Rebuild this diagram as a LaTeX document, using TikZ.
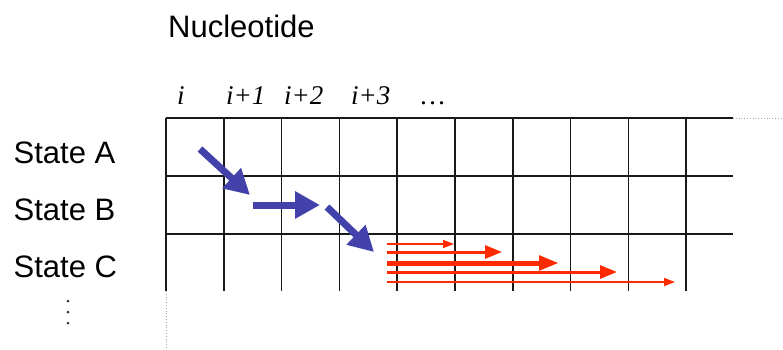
\documentclass[tikz,border=0pt]{standalone}
\usepackage{fontspec}
\setmainfont{Liberation Sans}
\newfontfamily\serifit{Liberation Serif}
\usetikzlibrary{arrows.meta}
\definecolor{bluearr}{RGB}{66,66,170}
\definecolor{redarr}{RGB}{255,42,0}
\tikzset{
  gridline/.style={line width=1.5pt, black!90},
  dotline/.style={line width=0.8pt, gray!70, dotted},
  lbl/.style={anchor=base west, inner sep=0pt, font=\fontsize{31}{31}\selectfont},
  collbl/.style={anchor=base west, inner sep=0pt, font=\serifit\itshape\fontsize{27}{27}\selectfont},
  bluea/.style={draw=bluearr, line width=7pt, -{Triangle[length=25pt,width=26pt]}},
  redthin/.style={draw=redarr, line width=1.5pt, -{Triangle[length=11pt,width=8pt]}},
  redmid/.style={draw=redarr, line width=3pt, -{Triangle[length=17pt,width=13pt]}},
  redthick/.style={draw=redarr, line width=5pt, -{Triangle[length=20pt,width=14pt]}},
}
\begin{document}
\begin{tikzpicture}[x=1pt,y=-1pt]
\useasboundingbox (0,0) rectangle (783,350);
% labels
\node[lbl] (nuc) at (168,38) {Nucleotide};
\node[lbl] (sa) at (13.5,163) {State A};
\node[lbl] (sb) at (13.5,220) {State B};
\node[lbl] (sc) at (13.5,277) {State C};
\node[collbl] (c1) at (177,105) {i};
\node[collbl] (c2) at (226,105) {i+1};
\node[collbl] (c3) at (284,105) {i+2};
\node[collbl] (c4) at (351,105) {i+3};
\node[collbl] (c5) at (419,105) {\normalfont\serifit …};
% vertical dots
\foreach \yy in {301,312,323} \fill[black!80] (68,\yy) circle (1.5pt);
% grid
\foreach \r in {118,176,234} \draw[gridline] (166,\r) -- (733,\r);
\foreach \k in {0,...,9} \draw[gridline] ({166+57.8*\k},118) -- ({166+57.8*\k},291);
\draw[dotline] (733,118) -- (783,118);
\draw[dotline] (166,291) -- (166,350);
% blue arrows
\coordinate (b1s) at (200,149); \coordinate (b1e) at (250,195);
\coordinate (b2s) at (253,205); \coordinate (b2e) at (320,205);
\coordinate (b3s) at (327,207); \coordinate (b3e) at (374,252);
\draw[bluea] (b1s) -- (b1e);
\draw[bluea] (b2s) -- (b2e);
\draw[bluea] (b3s) -- (b3e);
% red arrows
\coordinate (r1s) at (387,244); \coordinate (r1e) at (454,244);
\coordinate (r2s) at (387,252); \coordinate (r2e) at (502,252);
\coordinate (r3s) at (387,263); \coordinate (r3e) at (559,263);
\coordinate (r4s) at (387,272); \coordinate (r4e) at (617,272);
\coordinate (r5s) at (387,282); \coordinate (r5e) at (675,282);
\draw[redthin] (r1s) -- (r1e);
\draw[redmid] (r2s) -- (r2e);
\draw[redthick] (r3s) -- (r3e);
\draw[redmid] (r4s) -- (r4e);
\draw[redthin] (r5s) -- (r5e);
\end{tikzpicture}
\end{document}
